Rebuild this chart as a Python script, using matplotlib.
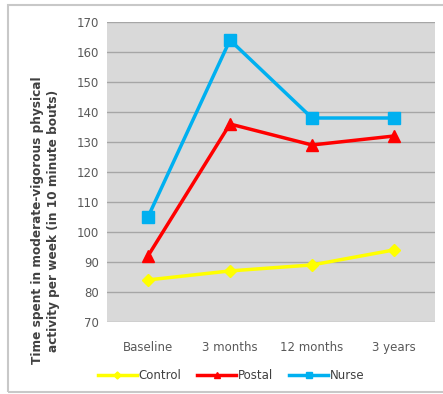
import matplotlib.pyplot as plt
from matplotlib.patches import Rectangle

timepoints = ["Baseline", "3 months", "12 months", "3 years"]
control = [84, 87, 89, 94]
postal = [92, 136, 129, 132]
nurse = [105, 164, 138, 138]

fig = plt.figure(figsize=(4.43, 3.94), dpi=100)
ax = fig.add_axes([0.2415, 0.183, 0.7405, 0.761])
ax.set_facecolor("#d9d9d9")

x = range(len(timepoints))
ax.plot(x, control, color="#ffff00", lw=2.5, marker="D", ms=6, label="Control")
ax.plot(x, postal, color="#ff0000", lw=2.5, marker="^", ms=8, label="Postal")
ax.plot(x, nurse, color="#00b0f0", lw=2.5, marker="s", ms=8, label="Nurse")

ax.set_xlim(-0.5, 3.5)
ax.set_ylim(70, 170)
ax.set_yticks(range(70, 171, 10))
ax.set_xticks(list(x))
ax.set_xticklabels(timepoints)
ax.yaxis.grid(True, color="#a6a6a6", lw=1)
ax.set_axisbelow(True)
for s in ax.spines.values():
    s.set_visible(False)
ax.tick_params(length=0, labelsize=8.5, colors="#595959", pad=6)
ax.tick_params(axis="x", pad=14)

# y label sits lower than the axes centre in the original
fig.text(0.103, 0.44,
         "Time spent in moderate-vigorous physical\nactivity per week (in 10 minute bouts)",
         rotation=90, ha="center", va="center", fontsize=8.7, fontweight="bold",
         color="#404040", linespacing=1.25)

leg = ax.legend(loc="center", bbox_to_anchor=(0.378, -0.178), ncol=3, frameon=False,
                fontsize=8.5, handlelength=3.3, columnspacing=1.4, handletextpad=0.1,
                markerscale=0.6, labelcolor="#404040")

fig.patches.append(Rectangle((8 / 443, 2 / 394), 445 / 443, 387 / 394,
                             transform=fig.transFigure, fill=False,
                             edgecolor="#c8c8c8", lw=1.5))

fig.savefig("out.png", dpi=100)
